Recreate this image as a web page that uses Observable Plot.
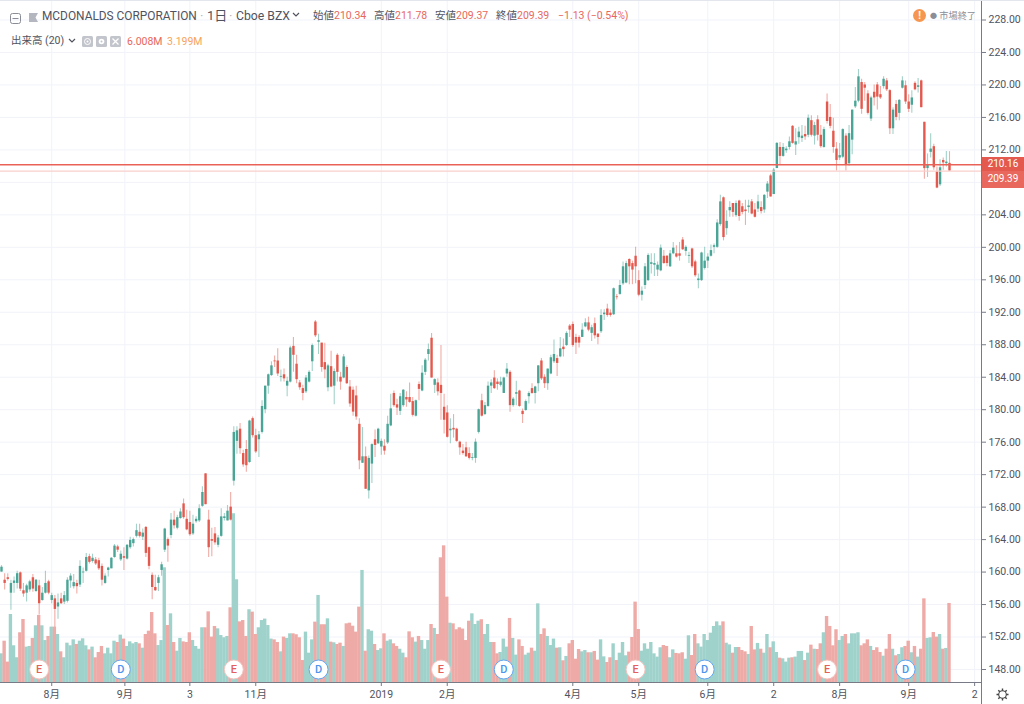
<!DOCTYPE html>
<html lang="ja">
<head>
<meta charset="utf-8">
<title>MCDONALDS CORPORATION</title>
<script src="https://cdn.jsdelivr.net/npm/d3@7"></script>
<script src="https://cdn.jsdelivr.net/npm/@observablehq/plot@0.6"></script>
<style>
html,body{margin:0;padding:0;background:#fff;}
#wrap{position:relative;width:1024px;height:704px;overflow:hidden;font-family:Roboto,"Noto Sans CJK JP",sans-serif;}
#wrap svg.chart{position:absolute;left:0;top:0;}
.h{position:absolute;white-space:nowrap;line-height:14px;color:#50535e;}
.r{color:#e8675c;}
.o{color:#f7a35c;}
.px{position:absolute;color:#fff;font-size:10px;text-align:center;}
</style>
</head>
<body>
<div id="wrap"></div>
<script>
const opens = [
160,159,159.3,157.4,158.6,158.6,159.9,157.7,157.4,157.8,
159.3,157.6,158.3,156.5,157.4,158.8,156.5,156.7,155.7,156.7,
156.3,156.4,158.9,158.2,158.6,158.4,159.9,160.1,161.9,161.3,
161.5,161.4,160.7,158.6,160.2,160.4,161.8,163.1,161.5,161.9,
161.6,163,163.5,164.4,164.9,164.3,165.5,163,159.6,158.1,
158.6,160.2,162.7,164,164.5,166.4,165.4,166.6,168.4,166.5,
166.1,164.7,166.2,166.3,168.1,172.1,166.4,164,164.7,163.3,
164.4,166.6,166.3,168,171.2,176.1,177.6,174.6,175.1,173.5,
178.9,176.8,176.3,177.2,180,182.9,184.2,186,186,184,
184.3,182.9,183.4,187.8,185.6,183.3,182.6,182.2,183.4,185.9,
190.8,188.3,188.2,185.8,182.7,185.3,182.9,186.7,184,183.9,
185.2,182.8,182.4,181.7,178.2,173.4,174.2,170,173.3,176.3,
175.8,175.4,175.5,175.9,178,182,180.6,179.8,180.5,181.5,
181.5,181,179.2,183.1,182.3,184.6,186.8,188.8,183,183.3,
183,180.3,179.6,177.4,177.7,177.6,176,174.9,175.3,174.6,
174,174,177.2,181.1,179.4,180.4,182.9,183.9,183.4,183,
182,184.4,184.6,180.5,181.9,182.3,179.8,179.9,181.6,182.6,
182,183.2,186,184,183.2,184.4,185.9,186.3,186.5,187.7,
187.9,190.3,190.5,188.9,188.9,188.9,190.2,190.7,189.4,190.6,
189.3,189.6,191.7,192.4,191.9,191.7,193.9,194.2,195.5,195.6,
198.5,198,198.9,195.9,194.1,195.3,195.9,197.9,197.8,197.2,
197.1,198.9,198.9,197.6,199.2,199.2,199.2,200.9,199.5,198.9,
199.8,198.2,195.9,195.9,197.4,198.3,198.9,200,200,202.8,
206.1,202.3,204.5,205.4,203.9,205.7,205,204.6,204.9,205.6,
204.6,204.7,204.9,204.6,206.8,208.8,206.5,209.7,212.3,211.2,
211.9,212.3,214.9,212.6,213.5,213.4,213.9,213.8,215.6,213.7,
215.7,213.8,212.3,217.9,216,214.3,212.1,211,211.1,213.7,
210.3,213.2,217.3,218,220.3,220,218.9,215.8,219.1,220,
218.8,219.8,220.5,219.3,214.6,217.6,216.5,219.6,219.9,217.9,
217.5,220.2,219.7,220.5,215.4,209.7,211.7,212.4,209.3,207.7,
210.7,210.3,210.34];
const highs = [
160.8,159.8,159.8,159,159.4,160.1,160,158.6,158.5,159,
159.7,159.1,159,158.1,160.1,159,157.4,157.1,157.3,157.4,
157.6,159.3,159.8,159.7,159,161.4,160.5,162.3,162.2,162.2,
161.8,161.7,161,159.8,160.6,161.8,163.4,163.3,162.6,163,
163.4,164.3,164.2,165.9,165.9,165.3,165.6,163.1,159.9,159.6,
159.6,161.2,165.4,164.2,167.2,167.5,167,167.8,169,167.6,
167.5,167,166.8,168.3,170.5,172.1,167.6,165.4,165.5,164.5,
167.8,167.2,168.2,169.8,177.9,177.9,178.3,175,176.2,178.7,
179.1,177.6,177.3,181.1,182.9,184.4,185.9,186.6,187.5,184.9,
185,184,187.8,188.9,186.7,183.6,183,184.2,184.8,188.1,
191,189.3,188.2,188.2,185.6,187.2,185,186.9,184.6,186.8,
185.4,183.6,182.8,182.9,178.9,177.8,175.4,174.3,175.8,177.5,
177.7,176.4,176.3,179.2,181.9,182.3,181.3,182,182.5,182.2,
183.3,181.5,181.2,183.4,185.4,186.3,188.1,189.4,183.8,183.8,
187.9,181.9,180.5,178.9,179.4,177.7,176.1,175.7,176,175.3,
174.6,176.4,180.1,181.9,180.9,183.4,183.7,184.8,183.8,184,
184,185.7,184.8,181.5,183.5,182.4,180.1,181.2,182.2,183.2,
182.9,185.4,186.3,184.3,185,186.7,188.6,186.7,188.9,188.7,
189.6,190.5,190.8,189.3,189.1,190.6,191.2,191.4,190.4,191.3,
189.4,192.3,192.3,193,192.3,195,194.2,195.9,198.2,198.3,
198.6,198.3,200,197.1,195.1,198,199.2,199.2,199.2,198.2,
200.3,199.6,199,199.6,200.6,200.2,200.6,201.2,200.2,199.4,
199.9,198.4,196.7,199.4,200,199.2,200.3,200.4,203.4,206.4,
206.2,204.5,205.6,205.4,205.7,205.8,205.4,205.8,205.8,205.9,
205.4,206.4,205.6,206.5,208.1,209,209.7,212.9,212.9,212.8,
212.4,213.6,215,214.6,214.8,215,214.9,216.3,216.2,215.4,
216.2,215,214.8,218.9,217.6,215.9,212.9,212.8,214.6,214,
215,216.9,219.7,221.9,220.7,220.3,219.3,218.6,220,220.3,
219.8,221,220.8,219.4,217.2,218.1,218.2,221,220.5,218.8,
219.3,220.4,220.8,220.6,215.4,211.5,214,212.7,209.9,210.8,
211,211.8,211.78];
const lows = [
160,157.8,158.9,155.3,157.4,157.9,157.6,156.9,156.3,157.5,
157.5,157.5,154.7,156.4,157.3,157.2,156.1,153.2,154.2,156,
156,156.2,158,157.9,157.3,158.1,158.6,160,161,161.1,
160.8,160.2,158.3,158.5,159.4,160.4,161.7,162.4,161.3,160.2,
161.5,162.8,163.1,164.2,164.2,163.9,161.8,160.3,156.6,157.6,
157.6,159.5,162.4,161.2,164.1,165.3,165.2,166.5,166.5,165.1,
164.4,164.5,166,166.1,168,168.3,161.8,161.9,163.3,163,
164.3,166.3,166.3,166.3,170.6,174.5,174.5,172.9,172.3,173.4,
176.5,174.6,174.1,177,179.5,181.9,184.1,185.2,184.1,183.4,
183.4,181.6,183.3,184.6,183.2,182.4,181.1,182,183.3,184.7,
188.9,186.8,184.6,183.8,182.2,182.7,180.6,183.4,182.4,183.8,
183.1,180.3,179.2,178.7,172.6,173.4,170.2,169,170.9,174.1,
175.7,174.4,174.4,175.7,177.9,180.3,179.3,179.3,180.3,180.3,
180.8,179.1,179.1,181.1,182.2,184.2,186,183.9,182,181.7,
178.7,177,176.5,175.8,176.5,176,174.4,174.4,174.1,173.8,
173.7,173.4,177,179.1,179.3,180.3,182,182.5,182.4,182.8,
182,184,179.7,180.3,180.5,180.3,178.3,179.8,180.7,181.9,
180.7,182.2,183.6,182.6,182.4,184.3,185.7,184.1,186.4,186.5,
187.8,188.9,187.7,186.8,187.6,188.9,190.1,189.6,188.4,188.7,
188,189.4,191,191.4,191.4,191.6,193.5,194.1,195.3,195.5,
195.4,195.4,195.5,193.9,193.4,194.8,195.8,196.7,196.4,196.4,
197,197.9,197.6,197.5,199.1,198.7,198.3,199.6,198.9,198,
197.4,196.3,194.9,195.8,197.2,197.4,198.8,199.2,199.9,202.6,
200.8,201.5,203.7,203.7,203.7,203.2,204,202.7,204.2,204,
203.6,204.3,204.1,204.2,206,206.2,206.5,209.7,210.2,211.1,
211.6,212,212.7,211.3,212.7,212.9,213.2,213.5,213.6,212.6,
213.1,212.2,212.2,215.2,214.6,211.6,209.4,210.7,210.9,209.4,
210,211.4,217.1,217.8,216.4,218,216.3,215.5,217.4,216.9,
218.2,219.5,219.2,213.9,213.9,215.6,215.6,219.5,217.6,216.6,
216.5,219.3,219,217.2,208.4,208.6,211,209.5,207.2,207.5,
209.5,209.9,209.37];
const closes = [
160.6,158.6,159.1,158.6,158.9,159.8,157.9,157.3,158.3,158.8,
157.9,159,156.1,157.4,158.6,157.4,157.1,155.4,156.2,156.1,
157.1,159,159.5,158.7,158.2,160.7,160,161.8,161.2,161.7,
161,160.4,159,159.5,160.5,161.7,163.2,162.7,162.2,161.7,
163.3,163.9,164,165.1,164.4,164.8,162.3,160.7,158.1,157.7,
159.3,160.9,165.3,163.2,166.4,165.7,166.7,167.4,166.7,165.2,
164.6,165.9,166.5,167.8,169.8,168.3,163,163.8,163.6,164.2,
166.8,166.8,167.5,166.4,177.2,177.4,175.2,173.2,173.1,178.6,
176.8,174.8,176.9,180.4,182.9,184.3,185.4,185.9,184.4,184.1,
183.8,183.5,187.6,186.7,183.7,182.7,182,183.9,184.6,187.9,
189.1,188.5,185.2,184.9,185.4,182.8,184.7,184.6,183.4,186.5,
183.2,180.7,179.7,179.1,173.7,174.2,170.2,174,175.7,175.6,
177.6,176.1,174.9,178.2,180.1,180.5,180.2,181.6,182.4,181.2,
180.9,179.3,181.1,182.5,184.5,186.1,187.4,183.9,183.7,182.2,
182,178.7,176.6,177.6,177.5,176.1,175.3,174.6,174.2,174,
174.1,176,180,179.2,180.5,182.9,183.3,182.6,183.1,183.4,
183.9,185,180.5,181.3,182.1,180.4,179.4,181,182,182,
182.8,185.4,183.8,183.2,185,186.4,186.8,185.7,187.5,187.4,
189.4,189.8,187.9,188.2,188.2,189.8,190.7,189.8,190.1,189.1,
188.9,191.6,191.9,191.6,191.6,194.9,193.8,195.3,197.6,198,
197.6,197.2,197.6,194.1,194.6,197.6,199,198.1,198,197.8,
199.9,198,198,199.2,199.9,198.8,198.9,199.7,200,199,
197.6,196.5,196.1,199.3,198.3,198.8,199.6,200.2,203,205.6,
201.2,203.2,204.9,204.3,205.4,203.8,204.3,204.4,205.1,204.1,
203.7,205.6,204.4,206.4,207.8,206.2,209.5,212.8,211.2,212.3,
212.1,213,212.8,213,214.2,213.7,213.6,215.9,213.8,215,
213.8,212.4,214.5,215.5,214.9,212.3,210.7,211.3,214.5,210.1,
214,216.9,218,221,217,219.6,216.5,218.4,218.4,218.5,
218.4,220.7,219.4,214.6,216.9,216,218.1,220.5,217.9,217,
218.4,219.4,219.9,217.2,209.7,210.1,212.1,209.8,207.3,209.8,
210.4,210.5,209.39];
// Volume in millions of shares
const volumes = [
2.18,3.14,1.55,5.17,2.79,1.88,3.78,4.79,2.69,2.74,
3.35,4.31,5.10,4.31,3.19,3.50,4.21,4.21,3.65,2.33,
1.88,2.99,2.79,3.24,2.89,3.14,3.32,2.79,2.48,2.69,
1.88,2.28,2.74,2.18,2.61,2.18,3.14,3.04,3.60,3.30,
2.74,3.09,2.94,3.04,2.94,2.61,3.65,3.90,5.32,3.70,
2.81,3.19,8.72,4.33,5.22,3.04,2.38,3.35,3.09,3.04,
3.78,3.19,2.74,2.53,4.16,4.16,5.37,3.45,4.26,4.08,
3.57,3.40,3.50,5.68,12.83,7.81,4.61,4.71,3.50,5.53,
5.35,3.65,4.16,4.71,4.82,4.33,3.30,3.24,3.04,2.33,
3.45,3.35,3.70,3.70,3.63,3.40,1.67,3.83,2.23,3.24,
4.59,6.62,4.39,4.39,4.84,3.07,3.02,2.89,2.99,2.74,
4.46,4.51,4.28,3.83,5.73,8.52,2.38,4.01,3.90,2.89,
2.43,2.56,3.70,3.14,3.24,2.94,2.74,2.53,2.23,1.88,
3.85,3.40,3.07,3.50,3.19,2.53,3.19,4.41,4.11,3.65,
9.48,10.39,6.49,4.51,4.46,4.01,4.16,4.06,3.19,4.66,
5.22,4.41,4.66,4.77,3.65,4.41,3.04,3.04,2.18,2.28,
3.30,2.69,4.87,3.35,2.08,3.24,2.74,2.08,2.23,2.61,
2.38,5.98,3.65,4.08,3.50,2.81,3.30,2.61,2.64,1.65,
1.98,2.94,3.19,1.77,2.51,2.33,2.43,2.26,2.26,2.36,
1.70,3.24,1.95,1.52,1.88,2.94,1.67,2.23,3.04,2.03,
2.31,3.42,6.11,4.03,2.38,2.94,2.53,3.04,2.18,1.93,
2.64,2.81,2.74,1.88,2.48,2.21,2.18,2.26,1.77,3.55,
2.05,3.65,2.94,2.69,3.65,3.19,3.75,4.26,4.61,4.31,
4.61,2.99,2.86,2.23,2.66,2.66,2.43,2.33,2.13,4.26,
2.48,2.97,2.53,2.23,3.65,2.64,3.09,2.28,1.85,1.80,
1.55,1.85,1.88,1.93,2.36,2.36,1.67,2.23,2.84,2.53,
2.51,2.94,3.78,5.02,4.26,2.79,4.01,3.19,3.50,3.65,
2.94,3.70,3.70,3.78,2.79,2.94,3.24,2.74,2.43,2.64,
2.28,2.00,2.53,3.65,2.53,2.03,2.13,2.64,2.74,3.14,
2.26,2.74,1.93,2.53,6.36,3.35,3.40,3.80,3.45,3.65,
2.53,2.59,6.008];
const priceTicks = [148,152,156,160,164,168,172,176,180,184,188,192,196,200,204,208,212,216,220,224,228];
const hiddenPriceTicks = [208];
const monthTickBars = [16,39.3,60,81,121,142,182,203,225,246,267,289,310];
const monthTickLabels = ["8月","9月","3","11月","2019","2月","4月","5月","6月","2","8月","9月","2"];
const earningsBars = [12,74,140,202,263];
const dividendBars = [38,101,160,224,288];
const lastPrice = 210.16;
const closePrice = 209.39;

const GREEN="#4aa596", RED="#e4594e", VGREEN="#a0d2cc", VRED="#eeaaa6";
const rows = opens.map((o,i)=>({i,o,h:highs[i],l:lows[i],c:closes[i],v:volumes[i]}));
const ups = rows.filter(d=>d.c>=d.o), downs = rows.filter(d=>d.c<d.o);
// Volume pane shares the plot: a fixed price-per-million factor places the bars above the baseline
const volBase = 146.4, volK = 1.62;
const volTop = d=>volBase+d.v*volK;
const volBars = (data,fill)=>Plot.rect(data,{x1:d=>d.i-0.54,x2:d=>d.i+0.54,y1:()=>volBase,y2:volTop,fill});
const wick = (data,stroke)=>Plot.ruleX(data,{x:"i",y1:"l",y2:"h",stroke,strokeWidth:1.1,strokeOpacity:0.5});
const body = (data,stroke)=>Plot.ruleX(data,{x:"i",y1:d=>d.o===d.c?d.o-0.08:d.o,y2:"c",stroke,strokeWidth:2.4});
const labelOf = v=>monthTickLabels[monthTickBars.indexOf(v)];

const chart = Plot.plot({
  width:1024,height:704,marginLeft:0,marginRight:43,marginTop:0,marginBottom:22,
  className:"chart",
  style:{fontFamily:'Roboto,"Noto Sans CJK JP",sans-serif',fontSize:"10.5px",color:"#50535e",background:"transparent"},
  x:{domain:[0,302],range:[1,949]},
  y:{domain:[148,228],range:[669,19.5]},
  marks:[
    Plot.gridY(priceTicks,{stroke:"#f1f3f9",strokeOpacity:1}),
    Plot.gridX(monthTickBars,{stroke:"#f1f3f9",strokeOpacity:1}),
    volBars(ups,VGREEN),volBars(downs,VRED),
    wick(ups,GREEN),wick(downs,RED),
    body(ups,GREEN),body(downs,RED),
    Plot.ruleY([closePrice],{stroke:"#f9cfcb",strokeWidth:1.2}),
    Plot.ruleY([lastPrice],{stroke:"#ea6257",strokeWidth:1.5}),
    Plot.dot(earningsBars,{x:d=>d,y:()=>148,r:9.5,fill:"#fff",stroke:"#f4c4c0",strokeWidth:1}),
    Plot.dot(dividendBars,{x:d=>d,y:()=>148,r:9.5,fill:"#fff",stroke:"#62a6f2",strokeWidth:1}),
    Plot.text(earningsBars,{x:d=>d,y:()=>148,text:()=>"E",fill:"#e4605c",fontSize:11,fontWeight:500}),
    Plot.text(dividendBars,{x:d=>d,y:()=>148,text:()=>"D",fill:"#4c94ee",fontSize:11,fontWeight:500}),
    Plot.frame({anchor:"right",stroke:"#787b86"}),
    Plot.frame({anchor:"bottom",stroke:"#787b86"}),
    Plot.axisY(priceTicks.filter(t=>!hiddenPriceTicks.includes(t)),{anchor:"right",tickSize:4,tickPadding:3,stroke:"#787b86",tickFormat:d=>d.toFixed(2),label:null}),
    Plot.axisX(monthTickBars,{anchor:"bottom",tickSize:4,tickPadding:4,stroke:"#787b86",tickFormat:labelOf,label:null})
  ]
});
const wrap=document.getElementById("wrap");
wrap.appendChild(chart);
const add=(html)=>wrap.insertAdjacentHTML("beforeend",html);
add(`<div style="position:absolute;left:0;top:0;width:1024px;height:1px;background:#e4e6ee"></div>`);
add(`<div style="position:absolute;left:981px;top:682px;width:1px;height:22px;background:#787b86"></div>`);
add(`<svg style="position:absolute;left:0;top:0" width="130" height="60">
<rect x="10.5" y="13.5" width="10" height="10" rx="2" fill="none" stroke="#8a8d96"/><path d="M12.5 18.5h6" stroke="#8a8d96"/>
<path d="M29 13h9l-2.5 4.5 2.5 4.5h-9z" fill="#b4b7c0"/></svg>`);
add(`<div class="h" style="left:42px;top:8px;font-size:13.5px;transform:scaleX(.88);transform-origin:left center">MCDONALDS CORPORATION</div>`);
add(`<div class="h" style="left:200px;top:9px;font-size:13px;color:#b4b7c0">·</div>`);
add(`<div class="h" style="left:207px;top:9px;font-size:13px">1日</div>`);
add(`<div class="h" style="left:229px;top:9px;font-size:13px;color:#b4b7c0">·</div>`);
add(`<div class="h" style="left:236px;top:9px;font-size:13px;transform:scaleX(.94);transform-origin:left center">Cboe BZX</div>`);
add(`<svg style="position:absolute;left:292px;top:12px" width="8" height="6"><path d="M1 1l3 3 3-3" fill="none" stroke="#50535e" stroke-width="1.2"/></svg>`);
add(`<div class="h" style="left:313px;top:9px;font-size:10.5px">始値<span class="r">210.34</span></div>`);
add(`<div class="h" style="left:374px;top:9px;font-size:10.5px">高値<span class="r">211.78</span></div>`);
add(`<div class="h" style="left:435px;top:9px;font-size:10.5px">安値<span class="r">209.37</span></div>`);
add(`<div class="h" style="left:496px;top:9px;font-size:10.5px">終値<span class="r">209.39</span></div>`);
add(`<div class="h r" style="left:558px;top:9px;font-size:10.5px">−1.13 (−0.54%)</div>`);
add(`<div class="h" style="left:11px;top:34px;font-size:10.5px">出来高 (20)</div>`);
add(`<svg style="position:absolute;left:68px;top:38px" width="8" height="6"><path d="M1 1l3 3 3-3" fill="none" stroke="#50535e" stroke-width="1.2"/></svg>`);
add(`<svg style="position:absolute;left:82px;top:36px" width="40" height="12">
<rect width="11" height="11" x="0" rx="1.5" fill="#c3c5cc"/><circle cx="5.5" cy="5.5" r="3" fill="none" stroke="#fff"/><circle cx="5.5" cy="5.5" r="1" fill="#fff"/>
<rect width="11" height="11" x="14" rx="1.5" fill="#c3c5cc"/><circle cx="19.5" cy="5.5" r="2.8" fill="#fff"/><circle cx="19.5" cy="5.5" r="1" fill="#c3c5cc"/>
<rect width="11" height="11" x="28" rx="1.5" fill="#c3c5cc"/><path d="M30.5 2.5l6 6m0-6l-6 6" stroke="#fff" stroke-width="1.3"/></svg>`);
add(`<div class="h r" style="left:127px;top:35px;font-size:10.5px">6.008M</div>`);
add(`<div class="h o" style="left:167px;top:35px;font-size:10.5px">3.199M</div>`);
add(`<div style="position:absolute;left:913px;top:9px;width:13px;height:13px;border-radius:50%;background:#f6964f;color:#fff;font:bold 10px/13px Roboto;text-align:center">!</div>`);
add(`<div class="h" style="left:930px;top:8.5px;font-size:9.2px;color:#8b8e97"><span style="font-size:7px;vertical-align:1px">●</span> 市場終了</div>`);
add(`<div class="px" style="left:982px;top:157px;width:42px;height:14px;line-height:14px;background:#e4594e;font-family:Roboto">210.16</div>`);
add(`<div class="px" style="left:982px;top:171px;width:42px;height:17px;line-height:16px;background:#e9685d;font-family:Roboto">209.39</div>`);
add(`<svg style="position:absolute;left:996px;top:688px" width="13" height="13" viewBox="-6.5 -6.5 13 13"><g stroke="#444" fill="none"><circle r="3.8" stroke-width="1.1"/><path d="M0-6V-3.8M0 6V3.8M-6 0H-3.8M6 0H3.8M-4.2-4.2L-2.7-2.7M4.2 4.2L2.7 2.7M-4.2 4.2L-2.7 2.7M4.2-4.2L2.7-2.7" stroke-width="1.4"/></g></svg>`);
</script>
</body>
</html>
